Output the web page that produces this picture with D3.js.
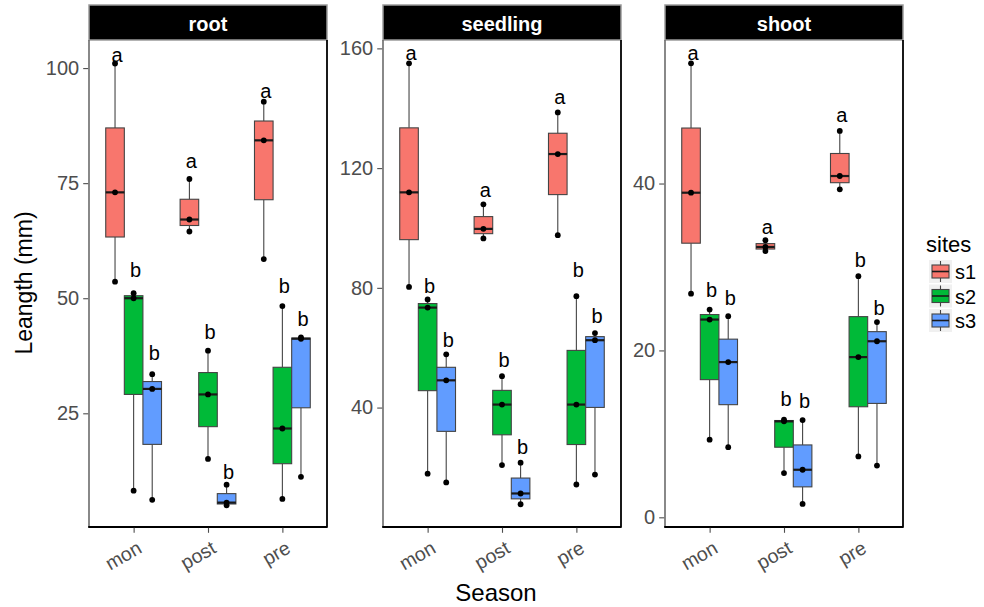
<!DOCTYPE html>
<html><head><meta charset="utf-8">
<script src="https://cdn.jsdelivr.net/npm/d3@7"></script>
<style>body{margin:0;background:#fff}svg{display:block;font-family:"Liberation Sans",Arial,sans-serif}</style>
</head><body><svg id="c" width="984" height="607"></svg>
<script>
// ---- data ----
const panelNames = ["root", "seedling", "shoot"];
const seasons = ["mon", "post", "pre"];
const sites = ["s1", "s2", "s3"];
const siteColors = ["#F8766D", "#00BA38", "#619CFF"];

// raw observations per season (mon, post, pre)
const root_s1 = [[53.6, 73.0, 101.0], [64.5, 67.1, 75.9], [58.5, 84.3, 92.7]];
const root_s2 = [[8.2, 50.0, 51.1], [15.1, 29.1, 38.6], [6.4, 21.7, 48.3]];
const root_s3 = [[6.2, 30.3, 33.5], [5.0, 5.6, 9.5], [11.2, 41.2, 41.5]];
const seedling_s1 = [[80.3, 111.9, 155.0], [96.5, 99.7, 107.9], [97.6, 124.7, 138.6]];
const seedling_s2 = [[17.9, 73.4, 76.1], [20.8, 41.0, 50.5], [14.3, 41.0, 77.2]];
const seedling_s3 = [[15.0, 49.1, 57.8], [7.7, 11.3, 21.6], [17.6, 62.5, 64.9]];
const shoot_s1 = [[26.8, 38.9, 54.4], [31.9, 32.4, 33.2], [39.3, 40.9, 46.3]];
const shoot_s2 = [[9.3, 23.7, 24.9], [5.3, 11.5, 11.7], [7.3, 19.2, 28.9]];
const shoot_s3 = [[8.4, 18.6, 24.1], [1.6, 5.7, 11.65], [6.2, 21.1, 23.4]];

// significance letters (per site, per season) and their heights
const root_letters = [["a", "a", "a"], ["b", "b", "b"], ["b", "b", "b"]];
const seedling_letters = [["a", "a", "a"], ["b", "b", "b"], ["b", "b", "b"]];
const shoot_letters = [["a", "a", "a"], ["b", "b", "b"], ["b", "b", "b"]];
const root_letterY = [[101.3, 78.3, 93.6], [54.6, 41.1, 51.1], [36.6, 10.7, 44.0]];
const seedling_letterY = [[156.1, 110.2, 141.3], [78.4, 53.4, 83.6], [60.3, 24.4, 68.3]];
const shoot_letterY = [[54.8, 34.0, 47.4], [26.4, 13.4, 30.0], [25.4, 13.1, 24.2]];

// y axis ticks and domains
const root_ticks = [25, 50, 75, 100];
const seedling_ticks = [40, 80, 120, 160];
const shoot_ticks = [0, 20, 40];
const root_domain = [0.3, 106.1];
const seedling_domain = [0.1, 162.8];
const shoot_domain = [-1.16, 57.2];

const panelData = {
  root: {obs: [root_s1, root_s2, root_s3], letters: root_letters, letterY: root_letterY, ticks: root_ticks, domain: root_domain},
  seedling: {obs: [seedling_s1, seedling_s2, seedling_s3], letters: seedling_letters, letterY: seedling_letterY, ticks: seedling_ticks, domain: seedling_domain},
  shoot: {obs: [shoot_s1, shoot_s2, shoot_s3], letters: shoot_letters, letterY: shoot_letterY, ticks: shoot_ticks, domain: shoot_domain}
};

// ---- layout ----
const svg = d3.select("#c");
const panelX = [[89, 327], [383, 621], [665, 903]];
const stripTop = 5, panelTop = 40, panelBottom = 527;
const grey = "#4D4D4D";

panelNames.forEach((name, pi) => {
  const pd = panelData[name];
  const [x0, x1] = panelX[pi];
  const g = svg.append("g");
  const x = d3.scalePoint().domain(seasons).range([x0, x1]).padding(0.6);
  const step = x.step();
  const dodge = d3.scaleBand().domain(sites).range([-0.375 * step, 0.375 * step]);
  const bw = dodge.bandwidth();
  const y = d3.scaleLinear().domain(pd.domain).range([panelBottom, panelTop]);

  // strip
  g.append("rect").attr("x", x0).attr("y", stripTop).attr("width", x1 - x0).attr("height", panelTop - stripTop)
    .attr("fill", "#000").attr("stroke", "#9a9a9a").attr("stroke-width", 1.5);
  g.append("text").attr("x", (x0 + x1) / 2).attr("y", 31).attr("text-anchor", "middle")
    .attr("fill", "#fff").attr("font-weight", "bold").attr("font-size", 20).text(name);

  // boxes
  sites.forEach((s, si) => {
    seasons.forEach((season, ki) => {
      const vals = pd.obs[si][ki].slice().sort(d3.ascending);
      const q1 = d3.quantile(vals, 0.25), med = d3.quantile(vals, 0.5), q3 = d3.quantile(vals, 0.75);
      const iqr = q3 - q1;
      const lo = d3.min(vals.filter(v => v >= q1 - 1.5 * iqr));
      const hi = d3.max(vals.filter(v => v <= q3 + 1.5 * iqr));
      const cx = x(season) + dodge(s) + bw / 2;
      g.append("line").attr("x1", cx).attr("x2", cx).attr("y1", y(hi)).attr("y2", y(q3))
        .attr("stroke", "#444").attr("stroke-width", 1.1);
      g.append("line").attr("x1", cx).attr("x2", cx).attr("y1", y(q1)).attr("y2", y(lo))
        .attr("stroke", "#444").attr("stroke-width", 1.1);
      g.append("rect").attr("x", cx - bw / 2).attr("y", y(q3)).attr("width", bw).attr("height", y(q1) - y(q3))
        .attr("fill", siteColors[si]).attr("stroke", "#444").attr("stroke-width", 1.1);
      g.append("line").attr("x1", cx - bw / 2).attr("x2", cx + bw / 2).attr("y1", y(med)).attr("y2", y(med))
        .attr("stroke", "#1a1a1a").attr("stroke-width", 2.2);
      g.selectAll(null).data(vals).enter().append("circle")
        .attr("cx", cx).attr("cy", d => y(d)).attr("r", 2.9).attr("fill", "#000");
      g.append("text").attr("x", cx + 2).attr("y", y(pd.letterY[si][ki])).attr("text-anchor", "middle")
        .attr("font-size", 20).attr("fill", "#000").text(pd.letters[si][ki]);
    });
  });

  // frame
  g.append("line").attr("x1", x0).attr("x2", x0).attr("y1", panelTop).attr("y2", panelBottom)
    .attr("stroke", "#6b6b6b").attr("stroke-width", 1.6);
  g.append("line").attr("x1", x1).attr("x2", x1).attr("y1", panelTop).attr("y2", panelBottom + 0.8)
    .attr("stroke", "#000").attr("stroke-width", 1.8);
  g.append("line").attr("x1", x0 - 0.8).attr("x2", x1).attr("y1", panelBottom).attr("y2", panelBottom)
    .attr("stroke", "#000").attr("stroke-width", 1.8);

  // y axis
  const yAxis = d3.axisLeft(y).tickValues(pd.ticks).tickSize(5).tickPadding(4);
  const ya = g.append("g").attr("transform", `translate(${x0 - 0.8},0)`).call(yAxis);
  ya.select(".domain").remove();
  ya.selectAll(".tick line").attr("stroke", grey).attr("stroke-width", 1.1);
  ya.selectAll(".tick text").attr("fill", grey).attr("font-size", 20)
    .attr("font-family", "'Liberation Sans',Arial,sans-serif");

  // x axis
  const xAxis = d3.axisBottom(x).tickSize(5).tickPadding(0);
  const xa = g.append("g").attr("transform", `translate(0,${panelBottom + 0.8})`).call(xAxis);
  xa.select(".domain").remove();
  xa.selectAll(".tick line").attr("stroke", grey).attr("stroke-width", 1.1);
  xa.selectAll(".tick text").attr("fill", grey).attr("font-size", 19.5)
    .attr("font-family", "'Liberation Sans',Arial,sans-serif")
    .attr("text-anchor", "end").attr("dy", null).attr("y", null)
    .attr("transform", "translate(9,24) rotate(-30)");
});

// axis titles
svg.append("text").attr("transform", "translate(32,283) rotate(-90)").attr("text-anchor", "middle")
  .attr("font-size", 23).attr("fill", "#000").text("Leangth (mm)");
svg.append("text").attr("x", 496).attr("y", 601).attr("text-anchor", "middle")
  .attr("font-size", 24).attr("fill", "#000").text("Season");

// legend
const leg = svg.append("g");
leg.append("text").attr("x", 926).attr("y", 252).attr("font-size", 22).attr("fill", "#000").text("sites");
sites.forEach((s, i) => {
  const ky = 260 + i * 24.5;
  leg.append("rect").attr("x", 929).attr("y", ky).attr("width", 23).attr("height", 23).attr("fill", "#F0F0F0");
  leg.append("line").attr("x1", 940.5).attr("x2", 940.5).attr("y1", ky + 1).attr("y2", ky + 22)
    .attr("stroke", "#444").attr("stroke-width", 1.1);
  leg.append("rect").attr("x", 932).attr("y", ky + 5).attr("width", 17).attr("height", 13)
    .attr("fill", siteColors[i]).attr("stroke", "#444").attr("stroke-width", 1.1);
  leg.append("line").attr("x1", 932).attr("x2", 949).attr("y1", ky + 11.5).attr("y2", ky + 11.5)
    .attr("stroke", "#1a1a1a").attr("stroke-width", 1.6);
  leg.append("text").attr("x", 955).attr("y", ky + 19).attr("font-size", 20).attr("fill", "#000").text(s);
});
</script></body></html>
